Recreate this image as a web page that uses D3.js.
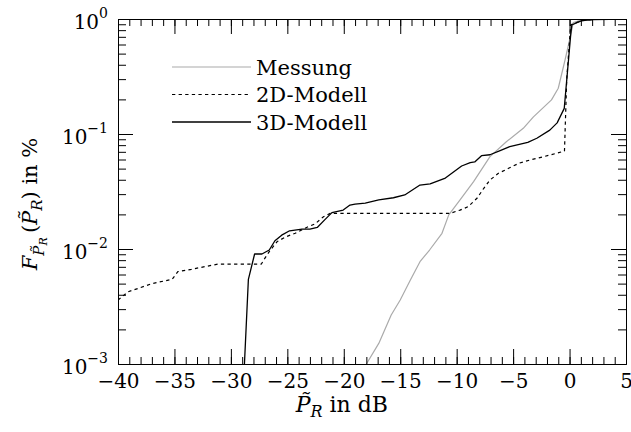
<!DOCTYPE html>
<html>
<head>
<meta charset="utf-8">
<script src="https://cdn.jsdelivr.net/npm/d3@7"></script>
<style>
  body { margin: 0; background: #fff; }
  svg text { font-family: "DejaVu Serif", serif; }
</style>
</head>
<body>
<div id="chart"></div>
<script>
// values: [level in dB, CDF value]
const messung = [
  [-18.0, 0.001], [-16.9, 0.00151], [-15.8, 0.00267], [-15.0, 0.0036], [-14.1, 0.00537],
  [-13.25, 0.00776], [-12.4, 0.0098], [-11.3, 0.0137], [-10.7, 0.0198], [-9.7, 0.0267],
  [-8.5, 0.0385], [-7.05, 0.0635], [-5.6, 0.0857], [-4.1, 0.112], [-3.2, 0.141],
  [-1.6, 0.198], [-1.0, 0.25], [-0.4, 0.44], [0.0, 0.656], [0.33, 0.93],
  [0.9, 0.97], [2.1, 0.99], [5, 1.0]
]
const modell2D = [
  [-40, 0.0036], [-39.1, 0.00425], [-38.2, 0.00455], [-37.0, 0.005], [-35.2, 0.00545],
  [-34.7, 0.00635], [-33.5, 0.00666], [-32.3, 0.00703], [-31.1, 0.0074], [-27.3, 0.0074],
  [-27.1, 0.008], [-26.6, 0.0095], [-25.9, 0.0116], [-25.1, 0.0128], [-24.3, 0.0137],
  [-23.3, 0.0154], [-22.55, 0.0165], [-21.8, 0.0191], [-21.2, 0.0204], [-10.6, 0.0204],
  [-9.7, 0.0218], [-9.0, 0.0233], [-8.2, 0.0276], [-7.6, 0.0337], [-7.05, 0.0398],
  [-6.3, 0.0455], [-5.4, 0.0503], [-4.5, 0.0556], [-3.5, 0.0594], [-2.3, 0.0635],
  [-1.15, 0.068], [-0.45, 0.0711], [-0.25, 0.3], [0.1, 0.89], [0.6, 0.93],
  [1.1, 0.967], [2.1, 0.99], [5, 1.0]
]
const modell3D = [
  [-28.8, 0.001], [-28.45, 0.00545], [-27.9, 0.00905], [-27.25, 0.00905], [-26.6, 0.0098],
  [-26.1, 0.0118], [-25.5, 0.0132], [-24.8, 0.0144], [-23.7, 0.0149], [-23.0, 0.0149],
  [-22.35, 0.0154], [-21.65, 0.0181], [-21.05, 0.0207], [-20.05, 0.0218], [-19.45, 0.0241],
  [-19.0, 0.0246], [-18.1, 0.0251], [-16.9, 0.0267], [-15.6, 0.0279], [-14.6, 0.0295],
  [-13.25, 0.036], [-12.35, 0.0368], [-11.0, 0.0414], [-9.56, 0.0527], [-8.8, 0.0563],
  [-8.4, 0.0572], [-7.8, 0.0648], [-7.05, 0.066], [-6.15, 0.0716], [-5.3, 0.0776],
  [-3.7, 0.0847], [-2.9, 0.0918], [-1.75, 0.108], [-1.1, 0.125], [-0.47, 0.167],
  [0.1, 0.726], [0.2, 0.887], [0.65, 0.93], [1.1, 0.967], [2.1, 0.99], [5, 1.0]
]
const series = [
  { name: 'Messung', data: messung, color: '#aaaaaa', dash: null, width: 1.2 },
  { name: '2D-Modell', data: modell2D, color: '#000', dash: '3.3,3.3', width: 1.2 },
  { name: '3D-Modell', data: modell3D, color: '#000', dash: null, width: 1.3 }
]
const xMajor = [-40, -35, -30, -25, -20, -15, -10, -5, 0, 5]
const xMinor = d3.range(-40, 6, 1)
const yMajor = [1e-3, 1e-2, 1e-1, 1]
const yMinor = [-3, -2, -1].flatMap(e => d3.range(2, 10).map(m => m * Math.pow(10, e)))

const width = 631
const height = 432
const margin = { top: 19, right: 5, bottom: 68, left: 118 }
const innerW = width - margin.left - margin.right
const innerH = height - margin.top - margin.bottom

const x = d3.scaleLinear().domain([-40, 5]).range([margin.left, width - margin.right])
const y = d3.scaleLog().domain([1e-3, 1]).range([height - margin.bottom, margin.top])

const svg = d3.select('#chart').append('svg')
  .attr('width', width)
  .attr('height', height)

svg.append('defs').append('clipPath').attr('id', 'plot')
  .append('rect')
  .attr('x', margin.left).attr('y', margin.top)
  .attr('width', innerW).attr('height', innerH)

// curves
const line = d3.line().x(d => x(d[0])).y(d => y(d[1]))
svg.append('g').attr('clip-path', 'url(#plot)')
  .selectAll('path')
  .data(series)
  .join('path')
  .attr('fill', 'none')
  .attr('stroke', d => d.color)
  .attr('stroke-width', d => d.width)
  .attr('stroke-dasharray', d => d.dash)
  .attr('stroke-linejoin', 'round')
  .attr('d', d => line(d.data))

// axes, ticks pointing inward
function styleAxis (g) {
  g.attr('font-family', null)
  g.selectAll('.domain').attr('stroke', '#000').attr('stroke-width', 1)
  g.selectAll('.tick line').attr('stroke', '#000').attr('stroke-width', 1)
}
const noLabel = () => ''
svg.append('g').attr('transform', `translate(0,${height - margin.bottom})`)
  .call(d3.axisBottom(x).tickValues(xMinor).tickSizeInner(-7).tickSizeOuter(0).tickFormat(noLabel))
  .call(styleAxis)
const xAxis = svg.append('g').attr('transform', `translate(0,${height - margin.bottom})`)
  .call(d3.axisBottom(x).tickValues(xMajor).tickSizeInner(-15).tickSizeOuter(0).tickPadding(9))
  .call(styleAxis)
xAxis.selectAll('text')
  .attr('font-size', 20)
  .attr('fill', '#000')
  .attr('dy', '0.74em')
svg.append('g').attr('transform', `translate(0,${margin.top})`)
  .call(d3.axisTop(x).tickValues(xMinor).tickSizeInner(-7).tickSizeOuter(0).tickFormat(noLabel))
  .call(styleAxis)
svg.append('g').attr('transform', `translate(0,${margin.top})`)
  .call(d3.axisTop(x).tickValues(xMajor).tickSizeInner(-15).tickSizeOuter(0).tickFormat(noLabel))
  .call(styleAxis)

svg.append('g').attr('transform', `translate(${margin.left},0)`)
  .call(d3.axisLeft(y).tickValues(yMinor).tickSizeInner(-8).tickSizeOuter(0).tickFormat(noLabel))
  .call(styleAxis)
const yAxis = svg.append('g').attr('transform', `translate(${margin.left},0)`)
  .call(d3.axisLeft(y).tickValues(yMajor).tickSizeInner(-15).tickSizeOuter(0).tickFormat(noLabel))
  .call(styleAxis)
svg.append('g').attr('transform', `translate(${width - margin.right},0)`)
  .call(d3.axisRight(y).tickValues(yMinor).tickSizeInner(-8).tickSizeOuter(0).tickFormat(noLabel))
  .call(styleAxis)
svg.append('g').attr('transform', `translate(${width - margin.right},0)`)
  .call(d3.axisRight(y).tickValues(yMajor).tickSizeInner(-15).tickSizeOuter(0).tickFormat(noLabel))
  .call(styleAxis)

// 10^n labels
const yLabels = yAxis.selectAll('.tick').append('text')
  .attr('x', -10)
  .attr('y', 9.5)
  .attr('text-anchor', 'end')
  .attr('fill', '#000')
  .attr('font-size', 20)
yLabels.append('tspan').text('10')
yLabels.append('tspan')
  .attr('font-size', 14)
  .attr('dy', -11)
  .text(d => {
    const e = Math.round(Math.log10(d))
    return e < 0 ? '\u2212' + (-e) : String(e)
  })

// legend
const legend = svg.append('g')
legend.selectAll('line')
  .data(series)
  .join('line')
  .attr('x1', 172).attr('x2', 251)
  .attr('y1', (d, i) => 67 + i * 27.5)
  .attr('y2', (d, i) => 67 + i * 27.5)
  .attr('stroke', d => d.color)
  .attr('stroke-width', d => d.width)
  .attr('stroke-dasharray', d => d.dash)
legend.selectAll('text')
  .data(series)
  .join('text')
  .attr('x', 256)
  .attr('y', (d, i) => 74.5 + i * 27.5)
  .attr('font-size', 21)
  .attr('fill', '#000')
  .text(d => d.name)

// axis titles
const xTitle = svg.append('text')
  .attr('x', 388)
  .attr('y', 412)
  .attr('text-anchor', 'end')
  .attr('font-size', 22)
xTitle.append('tspan').attr('font-style', 'italic').text('P\u0303')
xTitle.append('tspan').attr('font-style', 'italic').attr('font-size', 16).attr('dy', 5).text('R')
xTitle.append('tspan').attr('dy', -5).text(' in dB')

const yTitle = svg.append('text')
  .attr('transform', 'translate(37,204) rotate(-90)')
  .attr('text-anchor', 'middle')
  .attr('font-size', 21)
yTitle.append('tspan').attr('font-style', 'italic').text('F')
yTitle.append('tspan').attr('font-style', 'italic').attr('font-size', 15).attr('dy', 7).text('P\u0303')
yTitle.append('tspan').attr('font-style', 'italic').attr('font-size', 11).attr('dy', 3).text('R')
yTitle.append('tspan').attr('dy', -10).text('\u2009(')
yTitle.append('tspan').attr('font-style', 'italic').text('P\u0303')
yTitle.append('tspan').attr('font-style', 'italic').attr('font-size', 15).attr('dy', 5).text('R')
yTitle.append('tspan').attr('dy', -5).text(') in %')
</script>
</body>
</html>
